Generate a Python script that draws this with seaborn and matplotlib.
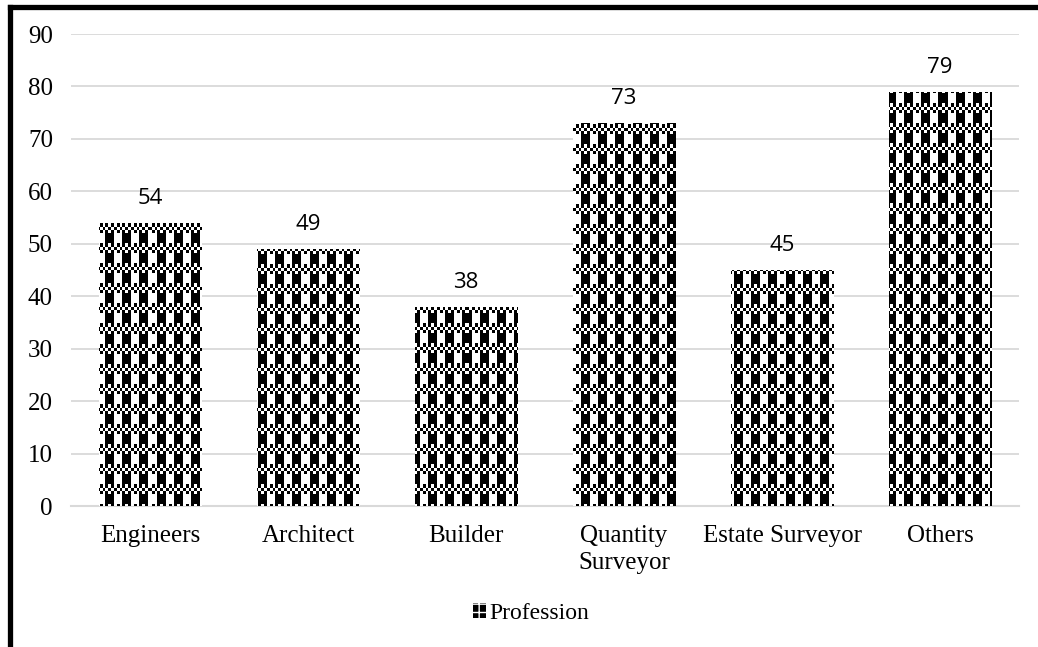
import numpy as np
import matplotlib
matplotlib.use("Agg")
import matplotlib.pyplot as plt
import seaborn as sns
import pandas as pd
from matplotlib.lines import Line2D
from matplotlib.patches import Patch

# donnees
categories = ["Engineers", "Architect", "Builder", "Quantity\nSurveyor", "Estate Surveyor", "Others"]
counts = [54, 49, 38, 73, 45, 79]
y_ticks = [0, 10, 20, 30, 40, 50, 60, 70, 80, 90]
series_name = "Profession"

df = pd.DataFrame({"profession": categories, "count": counts})

sns.set_theme(style="white")
plt.rcParams["font.family"] = ["Liberation Serif", "DejaVu Serif"]
plt.rcParams["text.color"] = "black"

fig = plt.figure(figsize=(10.38, 6.47), dpi=100)
ax = fig.add_axes([0.0684, 0.2179, 0.9133, 0.7295])

sns.barplot(data=df, x="profession", y="count", color="white", width=0.65,
            saturation=1, ax=ax, zorder=2)
for bar in ax.patches:
    bar.set_edgecolor("none")

ax.set_ylim(0, 90)
ax.set_yticks(y_ticks)
ax.set_xlabel("")
ax.set_ylabel("")
ax.yaxis.grid(True, color="#d9d9d9", linewidth=1.3)
ax.set_axisbelow(True)
for side in ["left", "right", "top"]:
    ax.spines[side].set_visible(False)
ax.spines["bottom"].set_color("#d9d9d9")
ax.spines["bottom"].set_linewidth(1.5)
ax.tick_params(axis="y", length=0, pad=13, labelsize=18, labelcolor="black")
ax.tick_params(axis="x", length=0, pad=14, labelsize=18, labelcolor="black")
for lab in ax.get_xticklabels():
    lab.set_linespacing(1.25)

# motif damier (comme le remplissage Excel)
th, tw = 20, 17
tile = np.zeros((th, tw))
tile[0:10, 0:9] = 1
for r in range(10, th):
    for c in range(tw):
        tile[r, c] = ((r - 10) * 3 // 10 + c // 3 + 1) % 2
w_px, h_px = 948, 472
texture = np.tile(tile, (h_px // th + 1, w_px // tw + 1))[:h_px, :w_px]
x0, x1 = ax.get_xlim()
for bar in ax.patches:
    im = ax.imshow(texture, cmap="gray_r", vmin=0, vmax=1, extent=(x0, x1, 0, 90),
                   aspect="auto", interpolation="nearest", origin="upper", zorder=3)
    im.set_clip_path(bar)
ax.set_xlim(x0, x1)
ax.set_ylim(0, 90)

ax.bar_label(ax.containers[0], padding=10, fontsize=16, family="Open Sans", color="black")

handle = Patch(facecolor="black", edgecolor="white", hatch="++", linewidth=0)
fig.legend([handle], [series_name], loc="center", bbox_to_anchor=(0.512, 0.052),
           frameon=False, fontsize=17, handlelength=0.55, handleheight=0.55,
           handletextpad=0.15)

# cadre noir (gauche et haut)
fig.add_artist(Line2D([0.0096, 0.0096], [0, 0.9885], transform=fig.transFigure,
                      color="black", linewidth=3.8, solid_capstyle="projecting"))
fig.add_artist(Line2D([0.0096, 1.0], [0.9885, 0.9885], transform=fig.transFigure,
                      color="black", linewidth=3.8, solid_capstyle="projecting"))

fig.savefig("out.png", dpi=100)
